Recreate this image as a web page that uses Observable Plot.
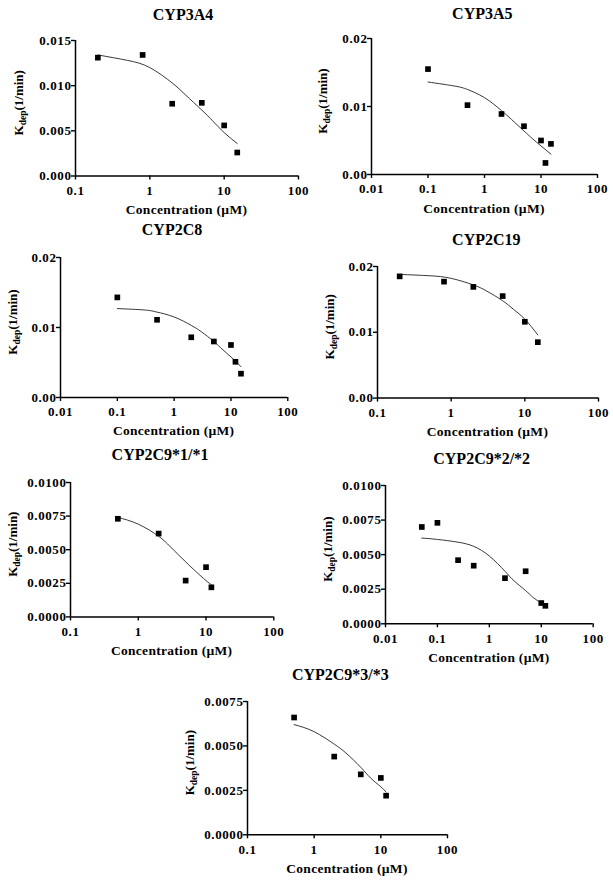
<!DOCTYPE html>
<html><head><meta charset="utf-8">
<script src="https://cdn.jsdelivr.net/npm/d3@7"></script>
<script src="https://cdn.jsdelivr.net/npm/@observablehq/plot@0.6"></script>
<style>
body{margin:0;background:#fff}
#fig{position:relative;width:613px;height:881px;overflow:hidden;background:#fff}
#fig svg{position:absolute;max-width:none}
</style>
</head><body><div id="fig"></div>
<script>
// ---- data ----
const titles = ["CYP3A4","CYP3A5","CYP2C8","CYP2C19","CYP2C9*1/*1","CYP2C9*2/*2","CYP2C9*3/*3"];
const xLabel = "Concentration (\u00b5M)";

const cyp3a4_conc = [0.2, 0.8, 2, 5, 10, 15];
const cyp3a4_kdep = [0.0131, 0.0134, 0.0080, 0.0081, 0.0056, 0.0026];
const cyp3a4_fitConc = [0.2, 0.5, 1, 2, 3, 5, 7, 10, 15];
const cyp3a4_fitKdep = [0.0134, 0.0128, 0.0120, 0.0103, 0.0090, 0.0073, 0.0061, 0.0048, 0.0036];

const cyp3a5_conc = [0.1, 0.5, 2, 5, 10, 12, 15];
const cyp3a5_kdep = [0.0155, 0.0102, 0.0089, 0.0071, 0.0050, 0.0017, 0.0045];
const cyp3a5_fitConc = [0.1, 0.3, 0.5, 1, 2, 3, 5, 7, 10, 15];
const cyp3a5_fitKdep = [0.0136, 0.0130, 0.0125, 0.0113, 0.0094, 0.0081, 0.0064, 0.0053, 0.0042, 0.0030];

const cyp2c8_conc = [0.1, 0.5, 2, 5, 10, 12, 15];
const cyp2c8_kdep = [0.0143, 0.0111, 0.0086, 0.0080, 0.0075, 0.0051, 0.0034];
const cyp2c8_fitConc = [0.1, 0.3, 0.5, 1, 2, 3, 5, 7, 10, 15];
const cyp2c8_fitKdep = [0.0127, 0.0125, 0.0122, 0.0115, 0.0103, 0.0094, 0.0080, 0.0069, 0.0058, 0.0044];

const cyp2c19_conc = [0.2, 0.8, 2, 5, 10, 15];
const cyp2c19_kdep = [0.0185, 0.0177, 0.0169, 0.0155, 0.0116, 0.0085];
const cyp2c19_fitConc = [0.2, 0.5, 1, 2, 3, 5, 7, 10, 15];
const cyp2c19_fitKdep = [0.0188, 0.0186, 0.0182, 0.0172, 0.0163, 0.0148, 0.0135, 0.0120, 0.0096];

const cyp2c9_11_conc = [0.5, 2, 5, 10, 12];
const cyp2c9_11_kdep = [0.0073, 0.0062, 0.0027, 0.0037, 0.0022];
const cyp2c9_11_fitConc = [0.5, 1, 2, 3, 5, 7, 10, 12];
const cyp2c9_11_fitKdep = [0.0074, 0.0069, 0.0060, 0.0052, 0.0041, 0.0034, 0.0027, 0.0024];

const cyp2c9_22_conc = [0.05, 0.1, 0.25, 0.5, 2, 5, 10, 12];
const cyp2c9_22_kdep = [0.0070, 0.0073, 0.0046, 0.0042, 0.0033, 0.0038, 0.0015, 0.0013];
const cyp2c9_22_fitConc = [0.05, 0.1, 0.25, 0.5, 1, 2, 3, 5, 7, 10];
const cyp2c9_22_fitKdep = [0.0062, 0.0061, 0.0059, 0.0056, 0.0049, 0.0038, 0.0031, 0.0024, 0.0019, 0.0015];

const cyp2c9_33_conc = [0.5, 2, 5, 10, 12];
const cyp2c9_33_kdep = [0.0066, 0.0044, 0.0034, 0.0032, 0.0022];
const cyp2c9_33_fitConc = [0.5, 1, 2, 3, 5, 7, 10, 12];
const cyp2c9_33_fitKdep = [0.0062, 0.0058, 0.0051, 0.0046, 0.0038, 0.0032, 0.0027, 0.0024];

// tick values
const xTicksA = [0.1, 1, 10, 100];
const xTicksB = [0.01, 0.1, 1, 10, 100];
const yTicks015 = [0, 0.005, 0.010, 0.015];
const yTicks02 = [0, 0.01, 0.02];
const yTicks01 = [0, 0.0025, 0.005, 0.0075, 0.01];
const yTicks0075 = [0, 0.0025, 0.005, 0.0075];

// ---- layout (page pixel positions) ----
const layout = [
  {x0:75,   x1:298,   yT:39.5,  yB:175,   tx:183,   ty:19,    yo:52},
  {x0:370.7,x1:596.7, yT:37.7,  yB:173.7, tx:482,   ty:19,    yo:44},
  {x0:60,   x1:287.3, yT:257.3, yB:397.3, tx:172,   ty:235,   yo:43},
  {x0:376.7,x1:597.7, yT:265.7, yB:397.3, tx:486,   ty:245,   yo:43},
  {x0:70,   x1:273.3, yT:482.3, yB:616.7, tx:160,   ty:460.5, yo:53},
  {x0:385,  x1:592.7, yT:485,   yB:623.3, tx:481.7, ty:464,   yo:53},
  {x0:246.7,x1:446.7, yT:700.7, yB:834,   tx:340,   ty:679.3, yo:53}
];

const zip = (xs, ys) => xs.map((x, i) => ({x, y: ys[i]}));

const panels = [
  {pts: zip(cyp3a4_conc, cyp3a4_kdep), fit: zip(cyp3a4_fitConc, cyp3a4_fitKdep), xd:[0.1,100], xt:xTicksA, yd:[0,0.015], yt:yTicks015, fmt:".3f"},
  {pts: zip(cyp3a5_conc, cyp3a5_kdep), fit: zip(cyp3a5_fitConc, cyp3a5_fitKdep), xd:[0.01,100], xt:xTicksB, yd:[0,0.02], yt:yTicks02, fmt:".2f"},
  {pts: zip(cyp2c8_conc, cyp2c8_kdep), fit: zip(cyp2c8_fitConc, cyp2c8_fitKdep), xd:[0.01,100], xt:xTicksB, yd:[0,0.02], yt:yTicks02, fmt:".2f"},
  {pts: zip(cyp2c19_conc, cyp2c19_kdep), fit: zip(cyp2c19_fitConc, cyp2c19_fitKdep), xd:[0.1,100], xt:xTicksA, yd:[0,0.02], yt:yTicks02, fmt:".2f"},
  {pts: zip(cyp2c9_11_conc, cyp2c9_11_kdep), fit: zip(cyp2c9_11_fitConc, cyp2c9_11_fitKdep), xd:[0.1,100], xt:xTicksA, yd:[0,0.01], yt:yTicks01, fmt:".4f"},
  {pts: zip(cyp2c9_22_conc, cyp2c9_22_kdep), fit: zip(cyp2c9_22_fitConc, cyp2c9_22_fitKdep), xd:[0.01,100], xt:xTicksB, yd:[0,0.01], yt:yTicks01, fmt:".4f"},
  {pts: zip(cyp2c9_33_conc, cyp2c9_33_kdep), fit: zip(cyp2c9_33_fitConc, cyp2c9_33_fitKdep), xd:[0.1,100], xt:xTicksA, yd:[0,0.0075], yt:yTicks0075, fmt:".4f"}
];

const fig = document.getElementById("fig");
const FONT = "'Liberation Serif', 'Times New Roman', serif";
const mL = 70, mR = 15, mT = 35, mB = 50;

panels.forEach((p, i) => {
  const L = layout[i];
  const pw = L.x1 - L.x0, ph = L.yB - L.yT;
  const svg = Plot.plot({
    width: pw + mL + mR,
    height: ph + mT + mB,
    marginLeft: mL, marginRight: mR, marginTop: mT, marginBottom: mB,
    style: {fontFamily: FONT, fontWeight: "bold", fontSize: "13px", color: "#000", background: "transparent", overflow: "visible"},
    x: {type: "log", domain: p.xd},
    y: {domain: p.yd},
    marks: [
      Plot.axisX({ticks: p.xt, tickFormat: d => String(d), tickSize: 4, tickPadding: 5.5, label: null, strokeWidth: 1.4}),
      Plot.axisY({ticks: p.yt, tickFormat: d3.format(p.fmt), tickSize: 4, tickPadding: 0, label: null, strokeWidth: 1.4}),
      Plot.ruleY([p.yd[0]], {stroke: "#000", strokeWidth: 1.5}),
      Plot.ruleX([p.xd[0]], {stroke: "#000", strokeWidth: 1.5}),
      Plot.line(p.fit, {x: "x", y: "y", stroke: "#222", strokeWidth: 0.9, curve: "natural"}),
      Plot.dot(p.pts, {x: "x", y: "y", symbol: "square", fill: "#000", r: 3.2})
    ]
  });
  const left = L.x0 - mL, top = L.yT - mT;
  svg.style.left = left + "px";
  svg.style.top = top + "px";
  const s = d3.select(svg);
  s.selectAll("g[aria-label='y-axis tick label'] text, g[aria-label='x-axis tick label'] text")
    .style("letter-spacing", "0.6px");
  s.append("text")
    .attr("x", L.tx - left).attr("y", L.ty - top)
    .attr("text-anchor", "middle").attr("font-size", 16).attr("font-weight", "bold")
    .attr("fill", "#000").text(titles[i]);
  s.append("text")
    .attr("x", mL + pw / 2).attr("y", mT + ph + 38.5)
    .attr("text-anchor", "middle").attr("font-size", 13.5).attr("font-weight", "bold")
    .style("letter-spacing", "0.3px")
    .attr("fill", "#000").text(xLabel);
  const yl = s.append("text")
    .attr("transform", `translate(${mL - L.yo},${mT + ph / 2 - 5}) rotate(-90)`)
    .attr("text-anchor", "middle").attr("font-size", 13).attr("font-weight", "bold").attr("fill", "#000");
  yl.append("tspan").text("K");
  yl.append("tspan").attr("font-size", 9.5).attr("dy", 3).text("dep");
  yl.append("tspan").attr("dy", -3).text("(1/min)");
  fig.appendChild(svg);
});
</script>
</body></html>
